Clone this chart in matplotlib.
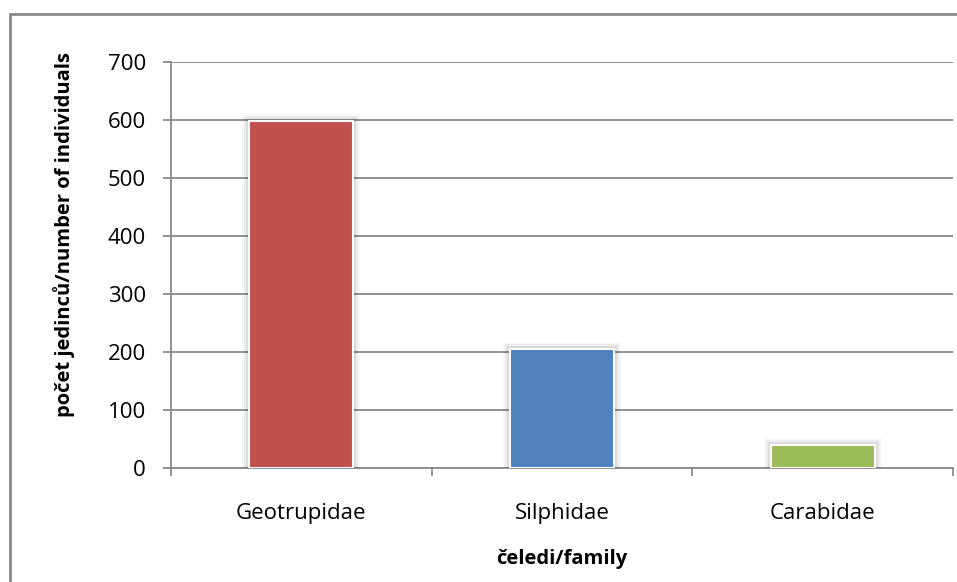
import matplotlib
matplotlib.use("Agg")
from matplotlib import pyplot as plt
from matplotlib.patches import Rectangle
import matplotlib.patheffects as pe

families = ["Geotrupidae", "Silphidae", "Carabidae"]
counts = [598, 206, 39]
bar_colors = ["#C0504D", "#4F81BD", "#9BBB59"]
y_ticks = [0, 100, 200, 300, 400, 500, 600, 700]

plt.rcParams['font.family'] = ['Open Sans', 'DejaVu Sans']
grey = "#8a8a8a"

fig = plt.figure(figsize=(9.57, 5.82), dpi=100)
ax = fig.add_axes([171 / 957, 114 / 582, 782 / 957, 406 / 582])

# outer chart frame (only left and top edges fall inside the image)
fig.patches.append(Rectangle((9.5 / 957, -0.2), 2.0, (582 - 13.5) / 582 + 0.2,
                             transform=fig.transFigure, fill=False,
                             edgecolor=grey, linewidth=2))

x = list(range(len(families)))
# soft halo behind bars
halo = [pe.Stroke(linewidth=10, foreground="#000000", alpha=0.03),
        pe.Stroke(linewidth=7, foreground="#000000", alpha=0.05),
        pe.Stroke(linewidth=4, foreground="#000000", alpha=0.07),
        pe.Normal()]
bars = ax.bar(x, counts, width=0.4, color=bar_colors, edgecolor="white",
              linewidth=1.5, zorder=3)
for b in bars:
    b.set_path_effects(halo)

ax.set_xlim(-0.5, len(families) - 0.5)
ax.set_ylim(0, 700)
ax.set_yticks(y_ticks)
ax.yaxis.grid(True, color=grey, linewidth=1.3)
ax.set_axisbelow(True)

# category boundaries get tick marks, labels sit at centers
ax.set_xticks([i - 0.5 for i in range(len(families) + 1)])
ax.set_xticklabels([])
ax.set_xticks(x, minor=True)
ax.set_xticklabels(families, minor=True)
ax.tick_params(axis="x", which="minor", length=0, pad=25, labelsize=16)
ax.tick_params(axis="x", which="major", length=6, width=1.3, color=grey)
ax.tick_params(axis="y", length=6, width=1.3, color=grey, pad=12, labelsize=16)

for side in ["top", "right"]:
    ax.spines[side].set_visible(False)
for side in ["left", "bottom"]:
    ax.spines[side].set_color(grey)
    ax.spines[side].set_linewidth(1.3)

ax.set_ylabel("počet jedinců/number of individuals", fontsize=14.5,
              fontweight="bold")
ax.yaxis.set_label_coords(-0.123, 0.574)
ax.set_xlabel("čeledi/family", fontsize=14.5, fontweight="bold", labelpad=18)

fig.savefig("out.png", dpi=100)
